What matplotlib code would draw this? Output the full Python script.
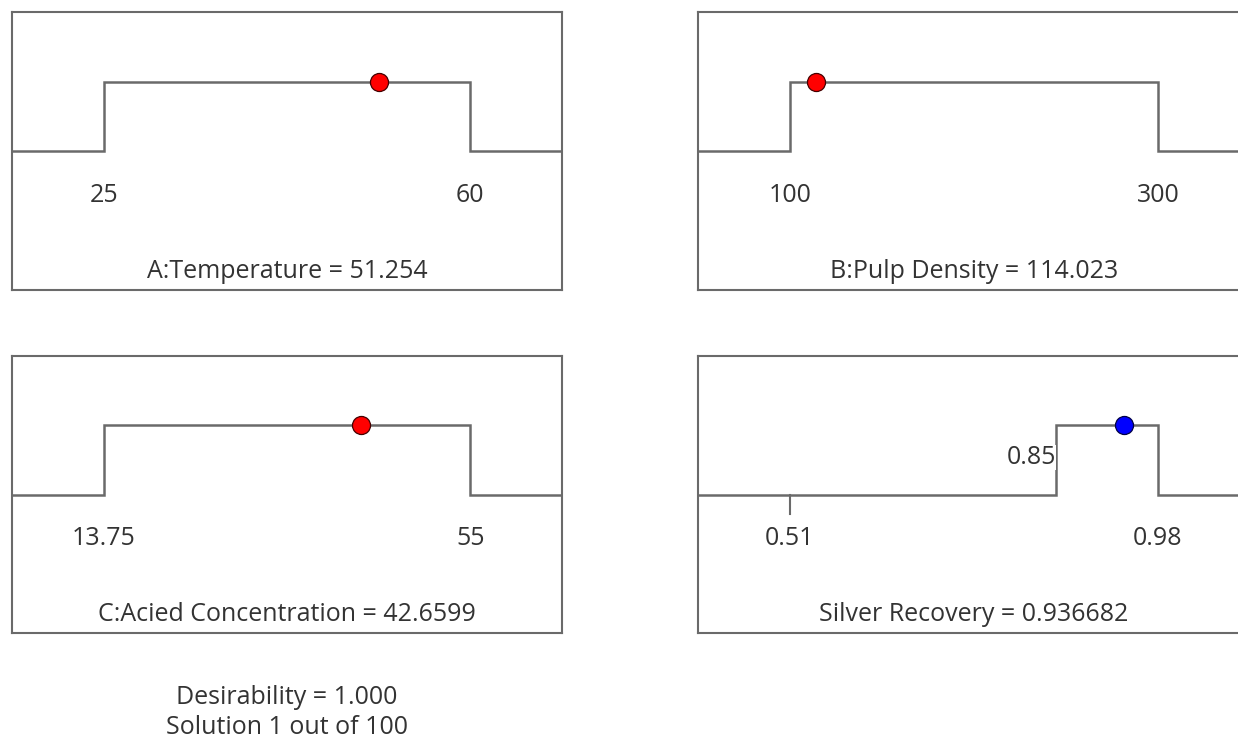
import matplotlib.pyplot as plt

plt.rcParams['font.family'] = ['Open Sans', 'DejaVu Sans']

# factor ranges and the optimum found
factor_names = ["A:Temperature", "B:Pulp Density", "C:Acied Concentration"]
factor_low = [25, 100, 13.75]
factor_high = [60, 300, 55]
factor_labels = [("25", "60"), ("100", "300"), ("13.75", "55")]
factor_opt = [51.254, 114.023, 42.6599]
factor_opt_text = ["51.254", "114.023", "42.6599"]

# response goal
resp_name = "Silver Recovery"
resp_min = 0.51
resp_goal_low = 0.85
resp_max = 0.98
resp_labels = ("0.51", "0.85", "0.98")
resp_opt = 0.936682
resp_opt_text = "0.936682"

desirability = "1.000"
solution_text = "Solution 1 out of 100"

LINE = "#6a6a6a"
TEXT = "#333333"
FS = 18

fig = plt.figure(figsize=(12.38, 7.49), dpi=100)
fig.patch.set_facecolor("white")

boxes = [
    [12 / 1238, 1 - 290 / 749, 550 / 1238, 278 / 749],
    [698 / 1238, 1 - 290 / 749, 552 / 1238, 278 / 749],
    [12 / 1238, 1 - 633 / 749, 550 / 1238, 277 / 749],
]
resp_box = [698 / 1238, 1 - 633 / 749, 552 / 1238, 277 / 749]


def setup(ax, lo, hi):
    span = hi - lo
    ax.set_xlim(lo - 0.25 * span, hi + 0.25 * span)
    ax.set_ylim(0, 1)
    ax.set_xticks([])
    ax.set_yticks([])
    for s in ax.spines.values():
        s.set_color(LINE)
        s.set_linewidth(1.5)
    return span


for i in range(3):
    ax = fig.add_axes(boxes[i])
    lo, hi = factor_low[i], factor_high[i]
    span = setup(ax, lo, hi)
    x0, x1 = ax.get_xlim()
    ax.plot([x0, lo, lo, hi, hi, x1], [0.5, 0.5, 0.75, 0.75, 0.5, 0.5],
            color=LINE, lw=1.8, solid_joinstyle="miter")
    ax.plot([factor_opt[i]], [0.75], "o", color="red", mec="#440000",
            mew=0.9, ms=13, zorder=5)
    ax.text(lo, 0.34, factor_labels[i][0], ha="center", va="center",
            fontsize=FS, color=TEXT)
    ax.text(hi, 0.34, factor_labels[i][1], ha="center", va="center",
            fontsize=FS, color=TEXT)
    ax.text((x0 + x1) / 2, 0.065, f"{factor_names[i]} = {factor_opt_text[i]}",
            ha="center", va="center", fontsize=FS, color=TEXT)

# response panel
ax = fig.add_axes(resp_box)
setup(ax, resp_min, resp_max)
x0, x1 = ax.get_xlim()
ax.plot([x0, resp_goal_low, resp_goal_low, resp_max, resp_max, x1],
        [0.5, 0.5, 0.75, 0.75, 0.5, 0.5],
        color=LINE, lw=1.8, solid_joinstyle="miter")
ax.plot([resp_min, resp_min], [0.5, 0.43], color=LINE, lw=1.5)
ax.plot([resp_opt], [0.75], "o", color="blue", mec="#000044",
        mew=0.9, ms=13, zorder=5)
ax.text(resp_min, 0.34, resp_labels[0], ha="center", va="center",
        fontsize=FS, color=TEXT)
ax.text(resp_goal_low, 0.635, resp_labels[1], ha="right", va="center",
        fontsize=FS, color=TEXT, zorder=6,
        bbox=dict(facecolor="white", edgecolor="none", pad=0))
ax.text(resp_max, 0.34, resp_labels[2], ha="center", va="center",
        fontsize=FS, color=TEXT)
ax.text((x0 + x1) / 2, 0.065, f"{resp_name} = {resp_opt_text}",
        ha="center", va="center", fontsize=FS, color=TEXT)

fig.text(287 / 1238, 1 - 697 / 749, f"Desirability = {desirability}",
         ha="center", va="center", fontsize=FS, color=TEXT)
fig.text(287 / 1238, 1 - 727 / 749, solution_text,
         ha="center", va="center", fontsize=FS, color=TEXT)

fig.savefig("out.png", dpi=100, facecolor="white")
